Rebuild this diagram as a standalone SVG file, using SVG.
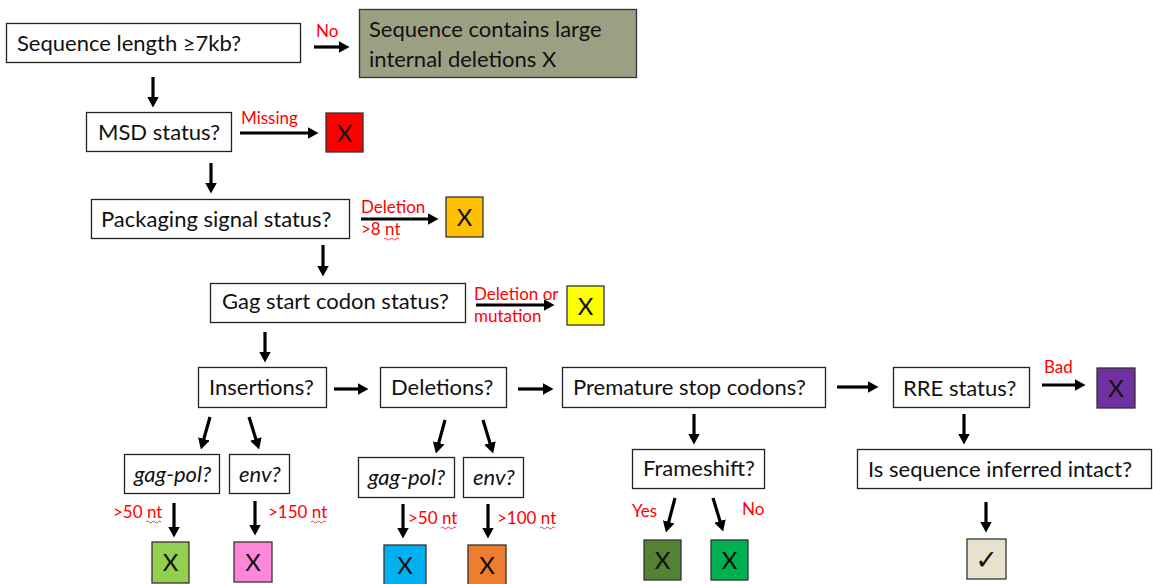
<svg xmlns="http://www.w3.org/2000/svg" width="1153" height="584" viewBox="0 0 1153 584">
<style>
.bg{fill:#ffffff}
.box{fill:#ffffff;stroke:#222;stroke-width:1.3}
.cbox{stroke:#333;stroke-width:1.3}
.t{font-family:Lato,"Open Sans","Liberation Sans",sans-serif;font-size:22px;fill:#111}
.it{font-style:italic}
.x{font-family:Lato,"Liberation Sans",sans-serif;font-size:24px;fill:#111;text-anchor:middle}
.r{font-family:Lato,"Liberation Sans",sans-serif;font-size:17px;fill:#ff0000}
.a{stroke:#000;stroke-width:3.2;fill:none;marker-end:url(#ah)}
.w{stroke:#e0403a;stroke-width:1;fill:none}
</style>
<defs>
<marker id="ah" markerUnits="userSpaceOnUse" viewBox="0 0 11 12" markerWidth="11" markerHeight="12" refX="0.5" refY="6" orient="auto">
<path d="M0,0 L11,6 L0,12 z" fill="#000"/>
</marker>
</defs>
<rect class="bg" x="0" y="0" width="1153" height="584"/>

<g id="n-length"><rect class="box" x="6.5" y="23.5" width="294" height="39"/><text class="t" x="17" y="51">Sequence length ≥7kb?</text></g>
<g id="n-large-del"><rect class="cbox" x="359.5" y="9.5" width="277" height="68" fill="#9ca083"/><text class="t" x="369" y="37">Sequence contains large</text><text class="t" x="369" y="67">internal deletions X</text></g>
<g id="n-msd"><rect class="box" x="86.5" y="112.5" width="145" height="39"/><text class="t" x="98" y="140">MSD status?</text></g>
<g id="n-msd-x"><rect class="cbox" x="326" y="113" width="37" height="39" fill="#ff0000"/><text class="x" x="344.5" y="142">X</text></g>
<g id="n-pack"><rect class="box" x="91.5" y="199.5" width="258" height="39"/><text class="t" x="101" y="227">Packaging signal status?</text></g>
<g id="n-pack-x"><rect class="cbox" x="446" y="197" width="37" height="40" fill="#ffc000"/><text class="x" x="464.5" y="226">X</text></g>
<g id="n-gag"><rect class="box" x="210.5" y="283.5" width="255" height="39"/><text class="t" x="222" y="309">Gag start codon status?</text></g>
<g id="n-gag-x"><rect class="cbox" x="567" y="286" width="37" height="39" fill="#ffff00"/><text class="x" x="585.5" y="315">X</text></g>
<g id="n-ins"><rect class="box" x="198.5" y="367.5" width="128" height="40"/><text class="t" x="209" y="395">Insertions?</text></g>
<g id="n-dels"><rect class="box" x="380.5" y="367.5" width="126" height="40"/><text class="t" x="391" y="395">Deletions?</text></g>
<g id="n-stop"><rect class="box" x="562.5" y="367.5" width="263" height="40"/><text class="t" x="573" y="395">Premature stop codons?</text></g>
<g id="n-rre"><rect class="box" x="893.5" y="367.5" width="136" height="40"/><text class="t" x="903" y="396">RRE status?</text></g>
<g id="n-rre-x"><rect class="cbox" x="1097" y="368" width="38" height="40" fill="#7030a0"/><text class="x" x="1116" y="397">X</text></g>
<g id="n-ins-gagpol"><rect class="box" x="124.5" y="454.5" width="95" height="39"/><text class="t it" x="134" y="482">gag-pol?</text></g>
<g id="n-ins-env"><rect class="box" x="229.5" y="454.5" width="60" height="39"/><text class="t it" x="239" y="482">env?</text></g>
<g id="n-ins-gagpol-x"><rect class="cbox" x="152" y="542" width="37" height="41" fill="#92d050"/><text class="x" x="170.5" y="571">X</text></g>
<g id="n-ins-env-x"><rect class="cbox" x="234" y="542" width="38" height="40" fill="#ff87d9"/><text class="x" x="253" y="571">X</text></g>
<g id="n-del-gagpol"><rect class="box" x="358.5" y="457.5" width="96" height="40"/><text class="t it" x="368" y="485">gag-pol?</text></g>
<g id="n-del-env"><rect class="box" x="463.5" y="457.5" width="60" height="40"/><text class="t it" x="473" y="485">env?</text></g>
<g id="n-del-gagpol-x"><rect class="cbox" x="384" y="545" width="42" height="41" fill="#00b0f0"/><text class="x" x="405" y="574">X</text></g>
<g id="n-del-env-x"><rect class="cbox" x="468" y="545" width="38" height="41" fill="#ed7d31"/><text class="x" x="487" y="574">X</text></g>
<g id="n-frame"><rect class="box" x="632.5" y="449.5" width="132" height="39"/><text class="t" x="643" y="476">Frameshift?</text></g>
<g id="n-frame-yes"><rect class="cbox" x="644" y="540" width="37" height="40" fill="#548235"/><text class="x" x="662.5" y="569">X</text></g>
<g id="n-frame-no"><rect class="cbox" x="711" y="540" width="37" height="40" fill="#00b050"/><text class="x" x="729.5" y="569">X</text></g>
<g id="n-intact"><rect class="box" x="857.5" y="449.5" width="294" height="39"/><text class="t" x="868" y="477">Is sequence inferred intact?</text></g>
<g id="n-intact-ok"><rect class="cbox" x="967" y="539" width="39" height="40" fill="#e7e1cd"/><text x="986.5" y="569" font-family="'DejaVu Sans',sans-serif" font-size="27" fill="#111" text-anchor="middle">✓</text></g>

<g id="connectors">
<line class="a" x1="153" y1="77" x2="153" y2="97"/>
<line class="a" x1="314" y1="47" x2="339" y2="47"/>
<line class="a" x1="240" y1="133" x2="308" y2="133"/>
<line class="a" x1="211" y1="163" x2="211" y2="183"/>
<line class="a" x1="361" y1="219" x2="428" y2="219"/>
<line class="a" x1="323" y1="245" x2="323" y2="266"/>
<line class="a" x1="476" y1="305" x2="544" y2="305"/>
<line class="a" x1="265" y1="332" x2="265" y2="352"/>
<line class="a" x1="334" y1="389" x2="358" y2="389"/>
<line class="a" x1="518" y1="389" x2="543" y2="389"/>
<line class="a" x1="837" y1="387" x2="868" y2="387"/>
<line class="a" x1="1042" y1="385" x2="1075" y2="385"/>
<line class="a" x1="210" y1="417" x2="203.7" y2="439.4"/>
<line class="a" x1="249" y1="417" x2="256" y2="439.4"/>
<line class="a" x1="174" y1="503" x2="174" y2="527"/>
<line class="a" x1="255" y1="501" x2="255" y2="525"/>
<line class="a" x1="445" y1="420" x2="438.6" y2="443.3"/>
<line class="a" x1="483" y1="420" x2="490.1" y2="443.4"/>
<line class="a" x1="403" y1="504" x2="403" y2="528"/>
<line class="a" x1="488" y1="504" x2="488" y2="528"/>
<line class="a" x1="694" y1="414" x2="694" y2="434"/>
<line class="a" x1="675" y1="498" x2="668.6" y2="522.3"/>
<line class="a" x1="713" y1="498" x2="720.1" y2="521.4"/>
<line class="a" x1="964" y1="414" x2="964" y2="434"/>
<line class="a" x1="986" y1="502" x2="986" y2="522"/>
</g>

<g id="labels">
<text class="r" x="316" y="37">No</text>
<text class="r" x="241" y="124">Missing</text>
<text class="r" x="361" y="213">Deletion</text>
<text class="r" x="361" y="235">&gt;8 nt</text>
<text class="r" x="474" y="300">Deletion or</text>
<text class="r" x="474" y="322">mutation</text>
<text class="r" x="1044" y="373">Bad</text>
<text class="r" x="113" y="518">&gt;50 nt</text>
<text class="r" x="268" y="518">&gt;150 nt</text>
<text class="r" x="408" y="524">&gt;50 nt</text>
<text class="r" x="497" y="524">&gt;100 nt</text>
<text class="r" x="632" y="517">Yes</text>
<text class="r" x="742" y="515">No</text>
<path class="w" d="M384,239 q1.5,-2 3,0 t3,0 t3,0 t3,0 t3,0"/>
<path class="w" d="M146,522 q1.5,-2 3,0 t3,0 t3,0 t3,0 t3,0"/>
<path class="w" d="M311,522 q1.5,-2 3,0 t3,0 t3,0 t3,0 t3,0"/>
<path class="w" d="M441,528 q1.5,-2 3,0 t3,0 t3,0 t3,0 t3,0"/>
<path class="w" d="M540,528 q1.5,-2 3,0 t3,0 t3,0 t3,0 t3,0"/>
</g>
</svg>
